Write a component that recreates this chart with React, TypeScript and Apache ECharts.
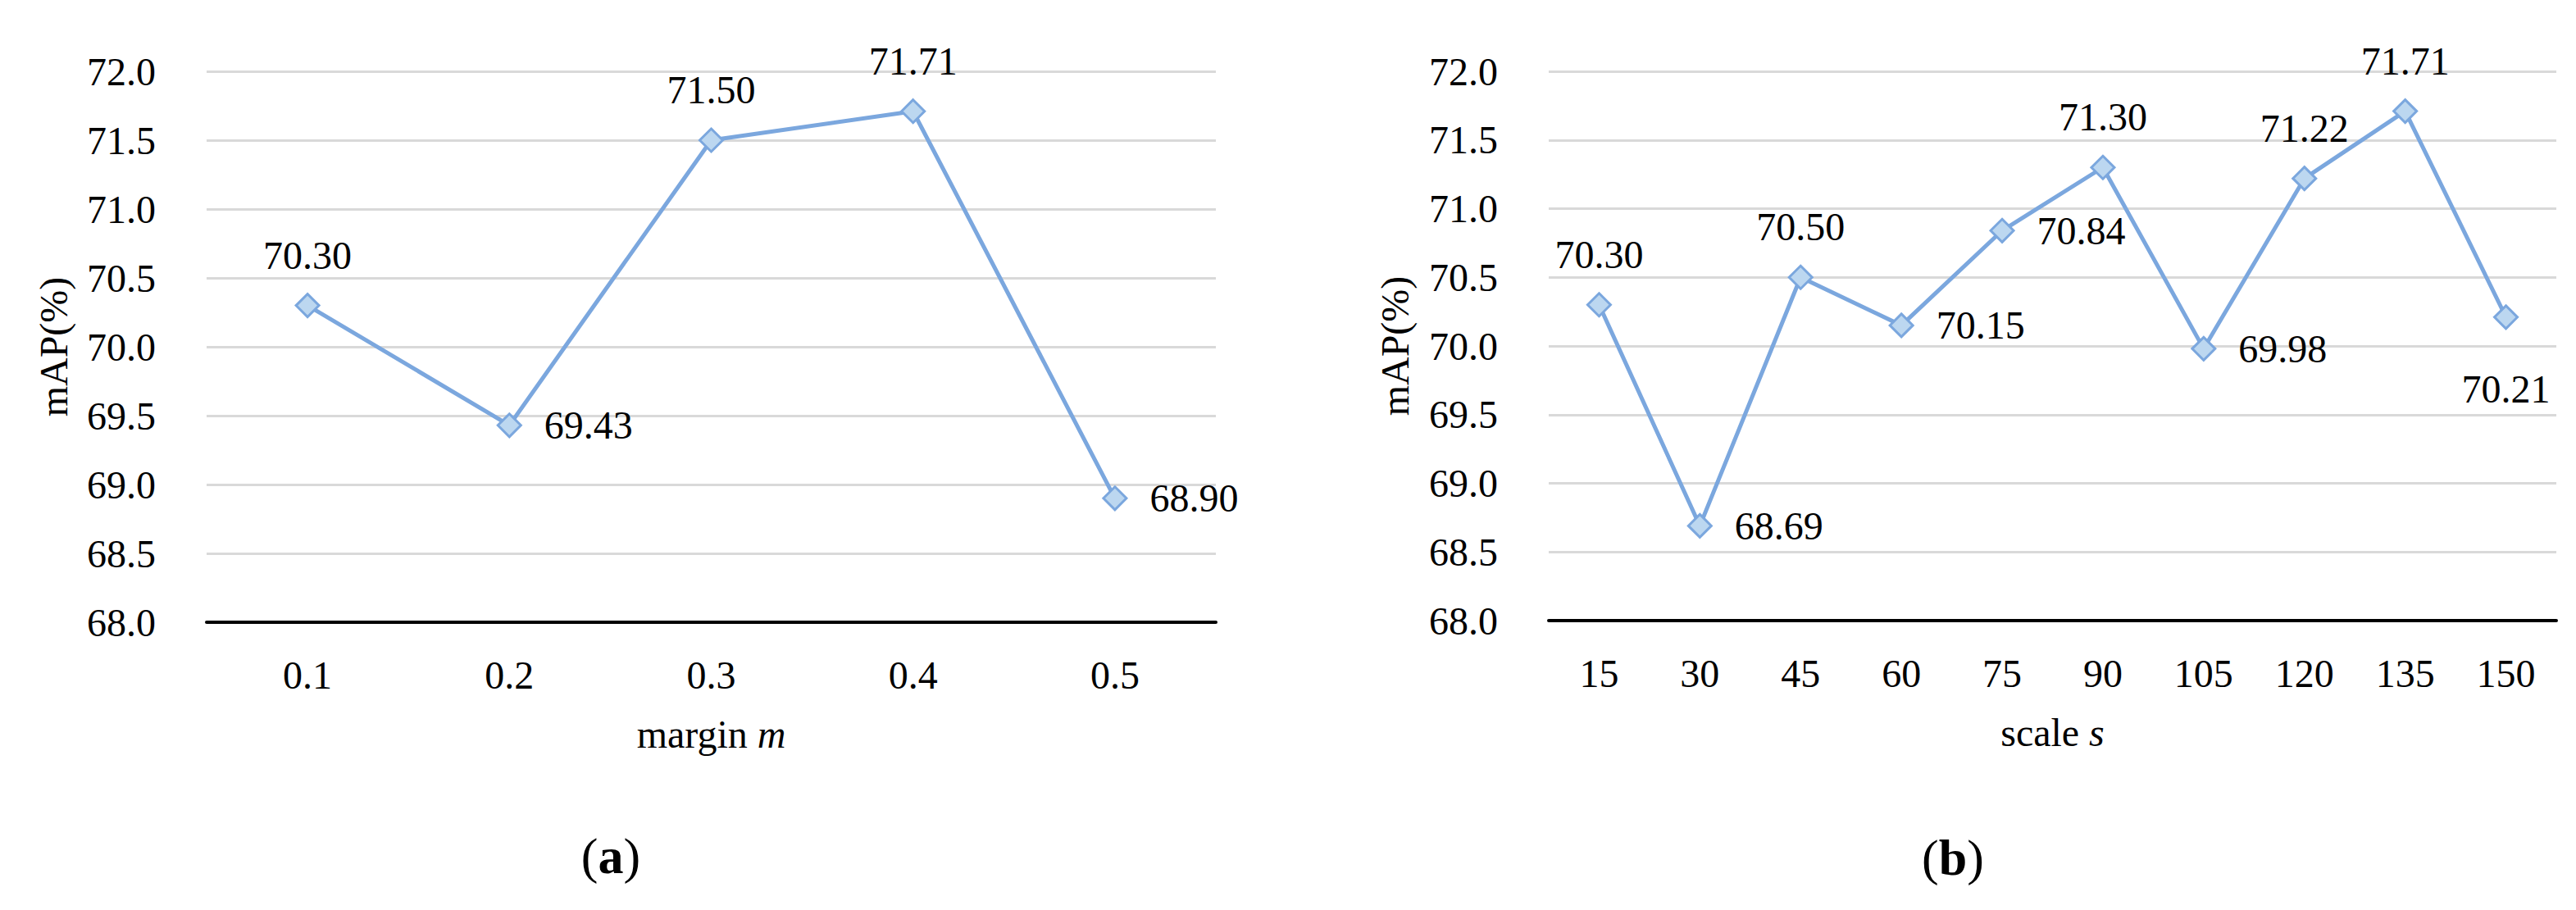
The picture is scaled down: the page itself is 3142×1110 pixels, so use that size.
import React, { useEffect, useRef } from 'react';
import * as echarts from 'echarts';

// ---- data ----
const marginCategories = ['0.1', '0.2', '0.3', '0.4', '0.5'];
const marginValues = [70.3, 69.43, 71.5, 71.71, 68.9];

const scaleCategories = ['15', '30', '45', '60', '75', '90', '105', '120', '135', '150'];
const scaleValues = [70.3, 68.69, 70.5, 70.15, 70.84, 71.3, 69.98, 71.22, 71.71, 70.21];

const yMin = 68;
const yMax = 72;
const yInterval = 0.5;

// label placement (style)
const marginLabelPos = ['top', 'right', 'top', 'top', 'right'];
const scaleLabelPos = ['top', 'right', 'top', 'right', 'right', 'top', 'right', 'top', 'top', 'bottom'];

const FONT = 'Liberation Serif';
const FS = 48;
const LINE = '#7ba7de';
const FILL = '#bcd7f0';

function labelDist(pos: string) {
  if (pos === 'top') return 22;
  if (pos === 'bottom') return 48;
  return 27;
}

function makeSeries(values: number[], pos: string[], idx: number) {
  return {
    type: 'line',
    xAxisIndex: idx,
    yAxisIndex: idx,
    data: values.map((v, i) => ({
      value: v,
      label: { position: pos[i], distance: labelDist(pos[i]) },
    })),
    symbol: 'diamond',
    symbolSize: 28,
    lineStyle: { color: LINE, width: 5 },
    itemStyle: { color: FILL, borderColor: LINE, borderWidth: 3 },
    label: {
      show: true,
      formatter: (p: any) => Number(p.value).toFixed(2),
      fontFamily: FONT,
      fontSize: FS,
      color: '#000',
    },
    z: 5,
  };
}

function xAxis(cats: string[], idx: number, name: string) {
  return {
    type: 'category',
    gridIndex: idx,
    data: cats,
    boundaryGap: true,
    axisTick: { show: false },
    axisLine: { show: true, lineStyle: { color: '#000', width: 4 } },
    axisLabel: { fontFamily: FONT, fontSize: FS, color: '#000', margin: 40 },
    name,
    nameLocation: 'middle',
    nameGap: 112,
    nameTextStyle: {
      fontFamily: FONT,
      fontSize: FS,
      color: '#000',
      rich: { i: { fontFamily: FONT, fontSize: FS, fontStyle: 'italic', color: '#000' } },
    },
    z: 3,
  };
}

function yAxis(idx: number, gap: number) {
  return {
    type: 'value',
    gridIndex: idx,
    min: yMin,
    max: yMax,
    interval: yInterval,
    axisLine: { show: false },
    axisTick: { show: false },
    axisLabel: {
      fontFamily: FONT,
      fontSize: FS,
      color: '#000',
      margin: 62,
      formatter: (v: number) => v.toFixed(1),
    },
    splitLine: { show: true, lineStyle: { color: '#d9d9d9', width: 3 } },
    name: 'mAP(%)',
    nameLocation: 'middle',
    nameGap: gap,
    nameTextStyle: { fontFamily: FONT, fontSize: FS, color: '#000' },
  };
}

function caption(letter: string, x: number, y: number) {
  return {
    type: 'text',
    x,
    y,
    style: {
      text: '({b|' + letter + '})',
      fontFamily: FONT,
      fontSize: 62,
      fill: '#000',
      align: 'center',
      verticalAlign: 'middle',
      rich: { b: { fontFamily: FONT, fontSize: 62, fontWeight: 'bold', fill: '#000' } },
    },
  };
}

export default function App() {
  const ref = useRef<HTMLDivElement>(null);
  useEffect(() => {
    if (!ref.current) return;
    const chart = echarts.init(ref.current, undefined, { renderer: 'svg' });
    chart.setOption({
      animation: false,
      backgroundColor: '#fff',
      textStyle: { fontFamily: FONT },
      grid: [
        { left: 252, right: 3142 - 1483, top: 87, bottom: 1110 - 759 },
        { left: 1889, right: 3142 - 3118, top: 87, bottom: 1110 - 757 },
      ],
      xAxis: [xAxis(marginCategories, 0, 'margin {i|m}'), xAxis(scaleCategories, 1, 'scale {i|s}')],
      yAxis: [yAxis(0, 163), yAxis(1, 164)],
      series: [makeSeries(marginValues, marginLabelPos, 0), makeSeries(scaleValues, scaleLabelPos, 1)],
      graphic: [caption('a', 745, 1044), caption('b', 2382, 1046)],
    });
    return () => chart.dispose();
  }, []);
  return (
    <div
      ref={ref}
      style={{ position: 'absolute', left: 0, top: 0, width: 3142, height: 1110, background: '#fff' }}
    />
  );
}
